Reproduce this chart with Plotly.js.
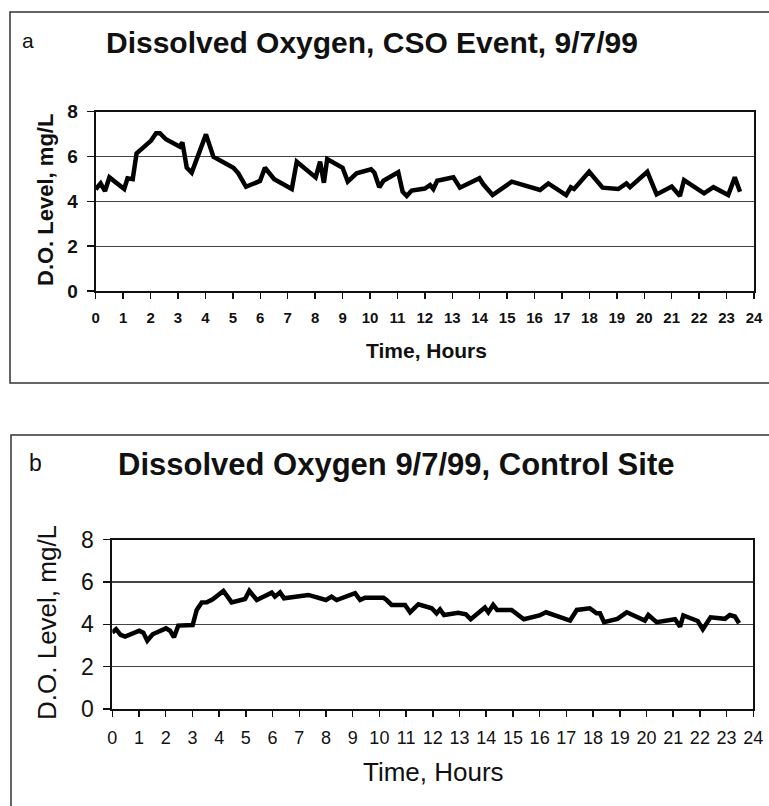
<!DOCTYPE html>
<html>
<head>
<meta charset="utf-8">
<script src="https://cdn.plot.ly/plotly-3.0.1.min.js"></script>
<style>html,body{margin:0;padding:0;background:#fff;}#chart{width:769px;height:806px;}</style>
</head>
<body>
<div id="chart"></div>
<script>
// Panel a: CSO event, 9/7/99
const hoursA = [0, 0.18, 0.34, 0.50, 1.04, 1.16, 1.35, 1.49, 1.74, 2.02, 2.20, 2.34, 2.56, 3.07, 3.16, 3.32, 3.50, 4.02, 4.29, 4.53, 5.02, 5.20, 5.48, 5.99, 6.17, 6.51, 7.15, 7.33, 8.02, 8.18, 8.32, 8.44, 9.00, 9.19, 9.51, 10.04, 10.16, 10.34, 10.49, 11.03, 11.19, 11.34, 11.52, 12.00, 12.19, 12.31, 12.45, 13.04, 13.28, 13.99, 14.13, 14.47, 15.17, 16.20, 16.50, 17.15, 17.32, 17.44, 17.99, 18.48, 19.05, 19.35, 19.48, 20.11, 20.45, 21.00, 21.30, 21.45, 22.18, 22.52, 23.06, 23.30, 23.49];
const doA = [4.54, 4.80, 4.46, 5.07, 4.55, 5.03, 4.99, 6.14, 6.41, 6.71, 7.04, 7.04, 6.77, 6.44, 6.63, 5.50, 5.28, 6.99, 5.99, 5.84, 5.50, 5.25, 4.65, 4.91, 5.50, 4.99, 4.55, 5.77, 5.07, 5.77, 4.83, 5.89, 5.50, 4.88, 5.25, 5.43, 5.28, 4.63, 4.92, 5.30, 4.43, 4.24, 4.48, 4.57, 4.73, 4.55, 4.92, 5.07, 4.61, 5.03, 4.76, 4.28, 4.88, 4.51, 4.80, 4.28, 4.63, 4.55, 5.32, 4.61, 4.55, 4.80, 4.63, 5.32, 4.31, 4.66, 4.24, 4.95, 4.36, 4.63, 4.28, 5.07, 4.43];

// Panel b: control site, 9/7/99
const hoursB = [0, 0.14, 0.31, 0.48, 1.01, 1.16, 1.31, 1.51, 2.01, 2.16, 2.31, 2.47, 3.01, 3.16, 3.35, 3.54, 3.76, 3.97, 4.16, 4.47, 4.97, 5.13, 5.41, 5.97, 6.09, 6.28, 6.43, 7.34, 8.00, 8.21, 8.40, 9.09, 9.28, 9.46, 10.15, 10.27, 10.46, 10.96, 11.15, 11.46, 11.96, 12.14, 12.27, 12.42, 12.95, 13.24, 13.42, 13.95, 14.08, 14.26, 14.41, 14.95, 15.41, 15.99, 16.24, 17.14, 17.39, 17.88, 18.13, 18.26, 18.41, 18.91, 19.26, 19.94, 20.07, 20.38, 21.07, 21.26, 21.38, 21.92, 22.11, 22.40, 22.94, 23.12, 23.31, 23.47];
const doB = [3.61, 3.77, 3.50, 3.42, 3.70, 3.61, 3.23, 3.53, 3.81, 3.70, 3.39, 3.94, 3.97, 4.68, 5.03, 5.04, 5.18, 5.36, 5.58, 5.04, 5.20, 5.58, 5.15, 5.50, 5.31, 5.51, 5.23, 5.39, 5.15, 5.31, 5.15, 5.47, 5.15, 5.26, 5.26, 5.15, 4.92, 4.92, 4.57, 4.95, 4.76, 4.52, 4.71, 4.44, 4.55, 4.47, 4.24, 4.80, 4.57, 4.92, 4.68, 4.68, 4.24, 4.42, 4.57, 4.18, 4.68, 4.76, 4.52, 4.52, 4.10, 4.26, 4.57, 4.18, 4.44, 4.10, 4.24, 3.89, 4.42, 4.16, 3.77, 4.33, 4.26, 4.44, 4.37, 4.05];

const xTicks = [0,1,2,3,4,5,6,7,8,9,10,11,12,13,14,15,16,17,18,19,20,21,22,23,24];
const yTicks = [0,2,4,6,8];

const W = 769, H = 806;
const px = v => v / W;
const py = v => 1 - v / H;
const FONT = 'Liberation Sans, Arial, sans-serif';

const traces = [
  {x: hoursA, y: doA, xaxis: 'x', yaxis: 'y', mode: 'lines', line: {color: '#000', width: 4.5}, hoverinfo: 'skip'},
  {x: hoursB, y: doB, xaxis: 'x2', yaxis: 'y2', mode: 'lines', line: {color: '#000', width: 4.5}, hoverinfo: 'skip'}
];

function xax(domain, anchor, font, standoff) {
  return {domain: domain, anchor: anchor, range: [0, 24], tickmode: 'array', tickvals: xTicks, ticktext: xTicks.map(String),
    showgrid: false, zeroline: false, showline: true, mirror: true, linecolor: '#111', linewidth: 2,
    ticks: 'outside', ticklen: 6, tickwidth: 1.5, tickcolor: '#111', tickfont: font, ticklabelstandoff: standoff, fixedrange: true};
}
function yax(domain, anchor, font, standoff) {
  return {domain: domain, anchor: anchor, range: [0, 8], tickmode: 'array', tickvals: yTicks, ticktext: yTicks.map(String),
    showgrid: true, gridcolor: '#444', gridwidth: 1.2, zeroline: false, showline: true, mirror: true, linecolor: '#111', linewidth: 2,
    ticks: 'outside', ticklen: 7, tickwidth: 1.5, tickcolor: '#111', tickfont: font, ticklabelstandoff: standoff, fixedrange: true};
}

const layout = {
  width: W, height: H, margin: {l: 0, r: 0, t: 0, b: 0}, paper_bgcolor: '#fff', plot_bgcolor: '#fff', showlegend: false,
  xaxis: xax([px(95.7), px(754)], 'y', {family: FONT, size: 15, color: '#111', weight: 'bold'}, 6),
  yaxis: yax([py(291), py(111.7)], 'x', {family: FONT, size: 19, color: '#111', weight: 'bold'}, 5),
  xaxis2: xax([px(112.3), px(753.3)], 'y2', {family: FONT, size: 18, color: '#111'}, 5),
  yaxis2: yax([py(709), py(539.7)], 'x2', {family: FONT, size: 23, color: '#111'}, 5),
  shapes: [
    {type: 'rect', xref: 'paper', yref: 'paper', x0: px(10), x1: px(790), y0: py(383), y1: py(12), line: {color: '#333', width: 1.5}},
    {type: 'rect', xref: 'paper', yref: 'paper', x0: px(11), x1: px(790), y0: py(830), y1: py(435), line: {color: '#333', width: 1.5}}
  ],
  annotations: [
    {text: 'a', x: px(28), y: py(40), xref: 'paper', yref: 'paper', showarrow: false, xanchor: 'center', yanchor: 'middle', font: {family: FONT, size: 21, color: '#111'}},
    {text: 'Dissolved Oxygen, CSO Event, 9/7/99', x: px(372), y: py(42), xref: 'paper', yref: 'paper', showarrow: false, xanchor: 'center', yanchor: 'middle', font: {family: FONT, size: 30, color: '#111', weight: 'bold'}},
    {text: 'D.O. Level, mg/L', x: px(45), y: py(200), xref: 'paper', yref: 'paper', showarrow: false, textangle: -90, xanchor: 'center', yanchor: 'middle', font: {family: FONT, size: 22, color: '#111', weight: 'bold'}},
    {text: 'Time, Hours', x: px(426), y: py(350), xref: 'paper', yref: 'paper', showarrow: false, xanchor: 'center', yanchor: 'middle', font: {family: FONT, size: 21, color: '#111', weight: 'bold'}},
    {text: 'b', x: px(35), y: py(463), xref: 'paper', yref: 'paper', showarrow: false, xanchor: 'center', yanchor: 'middle', font: {family: FONT, size: 23, color: '#111'}},
    {text: 'Dissolved Oxygen 9/7/99, Control Site', x: px(396), y: py(465), xref: 'paper', yref: 'paper', showarrow: false, xanchor: 'center', yanchor: 'middle', font: {family: FONT, size: 31, color: '#111', weight: 'bold'}},
    {text: 'D.O. Level, mg/L', x: px(47), y: py(623), xref: 'paper', yref: 'paper', showarrow: false, textangle: -90, xanchor: 'center', yanchor: 'middle', font: {family: FONT, size: 26, color: '#111'}},
    {text: 'Time, Hours', x: px(434), y: py(772), xref: 'paper', yref: 'paper', showarrow: false, xanchor: 'center', yanchor: 'middle', font: {family: FONT, size: 26, color: '#111'}}
  ]
};

Plotly.newPlot('chart', traces, layout, {staticPlot: true, displayModeBar: false});
</script>
</body>
</html>
